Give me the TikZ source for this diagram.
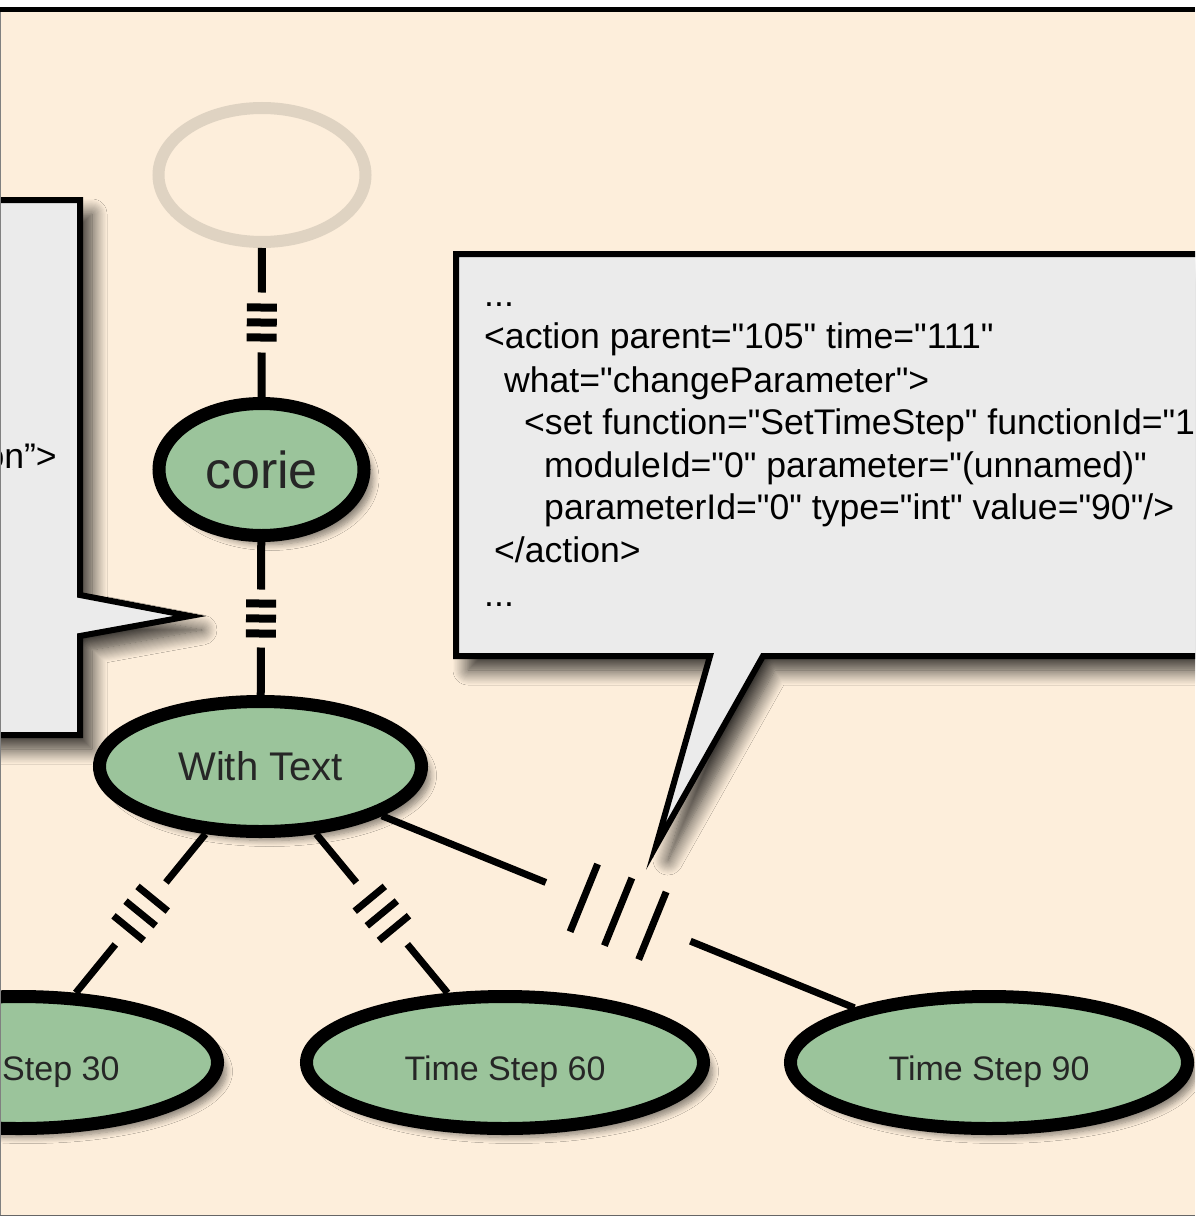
\documentclass[tikz,border=0pt]{standalone}
\usepackage{fontspec}
\setmainfont{Liberation Sans}
\usetikzlibrary{shapes.geometric,shadows.blur,calc}

\definecolor{peach}{HTML}{FDEEDB}
\definecolor{boxgray}{HTML}{EBEBEB}
\definecolor{nodegreen}{RGB}{155,196,155}
\definecolor{ringcol}{HTML}{DFD3C2}

\newcommand{\xq}{\textquotedbl}

% broken connector: #1 from, #2 to, #3 prefix, #4 gap half, #5 bar spacing, #6 bar half length, #7 line width, #8 bar thickness
\newcommand{\brokenlink}[8]{%
  \path (#1) -- (#2) coordinate[pos=0.5] (#3m);
  \coordinate (#3a) at ($(#3m)!#4!(#1)$);
  \coordinate (#3b) at ($(#3m)!#4!(#2)$);
  \draw[line width=#7] (#1) -- (#3a);
  \draw[line width=#7] (#3b) -- (#2);
  \coordinate (#3c1) at ($(#3m)!#5!(#1)$);
  \coordinate (#3c2) at (#3m);
  \coordinate (#3c3) at ($(#3m)!#5!(#2)$);
  \foreach \c in {c1,c2,c3}
    \draw[line width=#8] ($(#3\c)!#6!90:(#2)$) -- ($(#3\c)!#6!-90:(#2)$);
}

\begin{document}
\begin{tikzpicture}[x=1pt,y=-1pt,
  tnode/.style={ellipse, draw=black, line width=13pt, fill=nodegreen,
    inner sep=0pt, text=black!85,
    blur shadow={shadow xshift=9pt, shadow yshift=-9pt, shadow blur radius=6pt,
      shadow opacity=45, shadow blur steps=8}},
  tsnode/.style={tnode, minimum width=397pt, minimum height=132pt,
    font=\fontsize{34}{40}\selectfont, text height=35pt, text depth=0pt},
  ring/.style={ellipse, draw=ringcol, line width=12pt, minimum width=207pt,
    minimum height=134pt, inner sep=0pt},
  callout/.style={fill=boxgray, draw=black, line width=6pt, line join=miter,
    blur shadow={shadow xshift=12pt, shadow yshift=-14pt, shadow blur radius=15pt,
      shadow opacity=80, shadow blur steps=14}},
  xml/.style={anchor=base west, inner sep=0pt, font=\fontsize{35.6}{42}\selectfont},
]
\useasboundingbox (0,0) rectangle (1195,1217);
\fill[white] (0,0) rectangle (1195,1217);
\fill[peach] (1,12) rectangle (1195,1215);

\begin{scope}
\clip (1,12) rectangle (1195,1215);

% callout boxes
\path[callout] (-20,200) -- (80,200) -- (80,595) -- (190,616) -- (80,636)
  -- (80,735) -- (-20,735) -- cycle;
\node[anchor=base east, inner sep=0pt, font=\fontsize{35.6}{42}\selectfont] (lt) at (57,468) {on”>};

\path[callout] (456,254) -- (1230,254) -- (1230,656) -- (763,656) -- (656,846)
  -- (710,656) -- (456,656) -- cycle;
\node[xml] (l1) at (484,306) {...};
\node[xml] (l2) at (484,348) {<action parent=\xq105\xq{} time=\xq111\xq};
\node[xml] (l3) at (504,392) {what=\xq changeParameter\xq>};
\node[xml] (l4) at (524,434) {<set function=\xq SetTimeStep\xq{} functionId=\xq1};
\node[xml] (l5) at (544,477) {moduleId=\xq0\xq{} parameter=\xq(unnamed)\xq};
\node[xml] (l6) at (544,519) {parameterId=\xq0\xq{} type=\xq int\xq{} value=\xq90\xq/>};
\node[xml] (l7) at (494,562) {</action>};
\node[xml] (l8) at (484,606) {...};

% nodes
\node[ring] (top) at (262,175) {};
\node[tnode, minimum width=205pt, minimum height=132pt,
  font=\fontsize{52}{60}\selectfont] (corie) at (261.5,469.5) {corie};
\node[tnode, minimum width=322pt, minimum height=130pt,
  font=\fontsize{40}{48}\selectfont] (wt) at (260.5,766.5) {With Text};
\node[tsnode] (ts30) at (19,1062.5) {Time Step 30};
\node[tsnode] (ts60) at (505,1062.5) {Time Step 60};
\node[tsnode] (ts90) at (989,1062.5) {Time Step 90};

% connectors
\brokenlink{top}{corie}{ea}{30pt}{15pt}{15pt}{8pt}{8pt}
\brokenlink{corie}{wt}{eb}{29pt}{15pt}{15pt}{8pt}{8pt}
\brokenlink{wt}{ts30}{ec}{40pt}{19pt}{19.5pt}{7pt}{7pt}
\brokenlink{wt}{ts60}{ed}{40pt}{19pt}{19.5pt}{7pt}{7pt}
\brokenlink{wt}{ts90}{ee}{78pt}{37pt}{36.5pt}{7pt}{7pt}
\end{scope}

% frame
\fill[black] (0,7) rectangle (1195,12.5);
\fill[gray] (0,12) rectangle (1,1216);
\fill[gray!80!black] (0,1215) rectangle (1195,1216.3);
\end{tikzpicture}
\end{document}
